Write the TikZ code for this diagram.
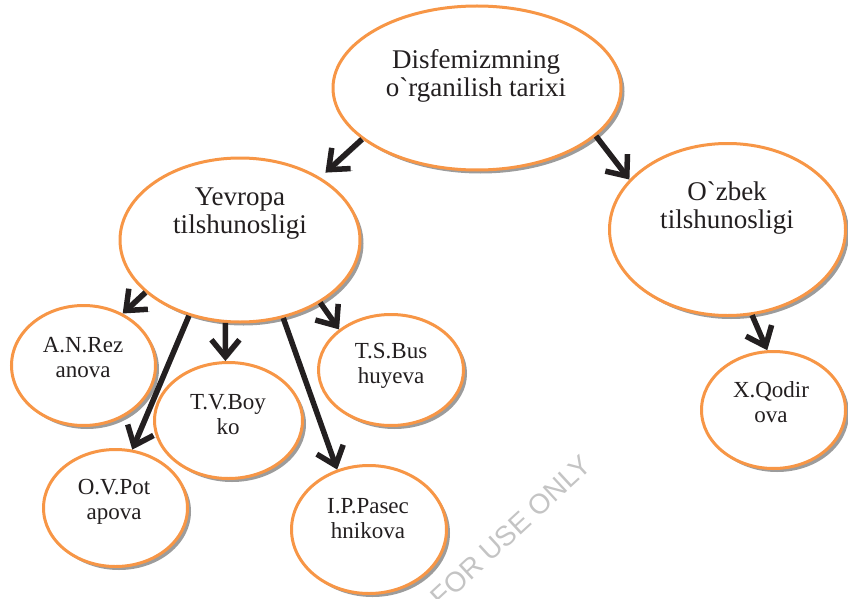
\documentclass[tikz,border=0pt]{standalone}
\usepackage{fontspec}
\newfontfamily\rawserif{Liberation Serif}
\newfontfamily\wmfont{Liberation Sans}
\usetikzlibrary{shapes.geometric,shadows,arrows.meta}
\definecolor{rim}{HTML}{F79646}
\definecolor{ink}{HTML}{231F20}
\definecolor{shade}{HTML}{9C9C9C}
\definecolor{wm}{HTML}{C4C4C4}
\tikzset{
  bubble/.style={ellipse, draw=rim, line width=3pt, fill=white, inner sep=0pt,
    drop shadow={shadow xshift=3.5pt, shadow yshift=-3.5pt, fill=shade, opacity=1}},
  bigtext/.style={align=center, text=ink, font=\rawserif\fontsize{27}{28}\selectfont, inner sep=0pt},
  smalltext/.style={align=center, text=ink, font=\rawserif\fontsize{23}{25}\selectfont, inner sep=0pt},
  conn/.style={draw=ink, line width=5.5pt, -{Straight Barb[length=17pt,width=28pt]},
    preaction={draw=shade, transform canvas={shift={(2pt,-2pt)}}}},
}
\begin{document}
\begin{tikzpicture}[x=1pt,y=-1pt]
\useasboundingbox (0,0) rectangle (848,599);
\node[wm, font=\wmfont\fontsize{28}{30}\selectfont, rotate=42.7] (wmark) at (511,531) {FOR USE ONLY};
% ellipses
\node[bubble, minimum width=288pt, minimum height=164pt] (T) at (477,88) {};
\node[bubble, minimum width=240pt, minimum height=164pt] (Y) at (240,240) {};
\node[bubble, minimum width=236pt, minimum height=172pt] (U) at (727.5,229.5) {};
\node[bubble, minimum width=144pt, minimum height=120pt] (A) at (83.5,365.5) {};
\node[bubble, minimum width=144pt, minimum height=117pt] (O) at (115.5,508) {};
\node[bubble, minimum width=148pt, minimum height=116pt] (B) at (228.5,420.5) {};
\node[bubble, minimum width=155pt, minimum height=128pt] (P) at (369,529.5) {};
\node[bubble, minimum width=145pt, minimum height=111pt] (S) at (391,370) {};
\node[bubble, minimum width=144pt, minimum height=117pt] (X) at (773.5,410) {};
% texts
\node[bigtext] (Tt) at (476,76) {Disfemizmning\\o`rganilish tarixi};
\node[bigtext] (Yt) at (240,214) {Yevropa\\tilshunosligi};
\node[bigtext] (Ut) at (727,208) {O`zbek\\tilshunosligi};
\node[smalltext] (At) at (83,358) {A.N.Rez\\anova};
\node[smalltext] (Ot) at (114,501.5) {O.V.Pot\\apova};
\node[smalltext] (Bt) at (228,414.5) {T.V.Boy\\ko};
\node[smalltext] (Pt) at (368,519) {I.P.Pasec\\hnikova};
\node[smalltext] (St) at (391,365.5) {T.S.Bus\\huyeva};
\node[smalltext] (Xt) at (771,402.5) {X.Qodir\\ova};
% connectors
\draw[conn, shorten >=7pt] (T.204) -- (Y.38);
\draw[conn] (T.338) -- (U.153);
\draw[conn] (U.286) -- (X.96);
\draw[conn] (Y.209) -- (A.53);
\draw[conn] (Y.236) -- (O.74);
\draw[conn] (Y.260) -- (B.93);
\draw[conn] (Y.299) -- (P.118);
\draw[conn] (Y.322) -- (S.142);
\end{tikzpicture}
\end{document}
